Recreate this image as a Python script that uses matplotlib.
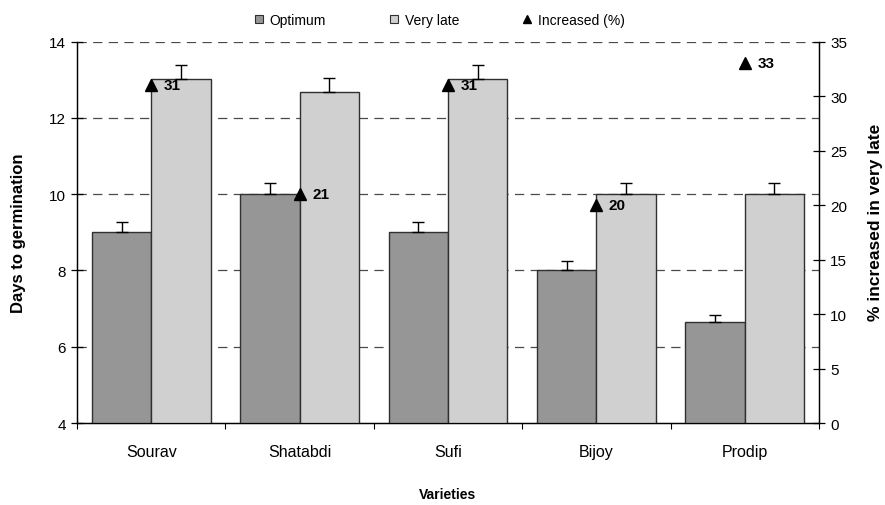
import numpy as np
import matplotlib
matplotlib.use('Agg')
import matplotlib.pyplot as plt
from matplotlib.lines import Line2D

plt.rcParams['font.family'] = ['Liberation Sans', 'DejaVu Sans']

varieties = ['Sourav', 'Shatabdi', 'Sufi', 'Bijoy', 'Prodip']
optimum = [9.0, 10.0, 9.0, 8.0, 6.65]
optimum_err = [0.26, 0.30, 0.26, 0.24, 0.19]
very_late = [13.03, 12.67, 13.02, 10.0, 10.0]
very_late_err = [0.37, 0.37, 0.37, 0.30, 0.30]
increased = [31, 21, 31, 20, 33]

fig = plt.figure(figsize=(8.85, 5.06), dpi=100)
ax = fig.add_axes([0.087, 0.162, 0.8384, 0.7536])
ax2 = ax.twinx()

x = np.arange(len(varieties))
w = 0.4

ax.bar(x - w / 2, optimum, w, bottom=0, color='#969696', edgecolor='#303030',
       linewidth=1, zorder=3)
ax.bar(x + w / 2, very_late, w, bottom=0, color='#d0d0d0', edgecolor='#303030',
       linewidth=1, zorder=3)
ax.errorbar(x - w / 2, optimum, yerr=[np.zeros(5), optimum_err], fmt='none',
            ecolor='black', elinewidth=1, capsize=4, capthick=1, zorder=4)
ax.errorbar(x + w / 2, very_late, yerr=[np.zeros(5), very_late_err], fmt='none',
            ecolor='black', elinewidth=1, capsize=4, capthick=1, zorder=4)

ax.set_ylim(4, 14)
ax.set_xlim(-0.5, 4.5)
ax.set_yticks([4, 6, 8, 10, 12, 14])
for yv in [6, 8, 10, 12, 14]:
    ax.axhline(yv, color='#4a4a4a', linestyle=(0, (7.4, 5.1)), linewidth=0.9, zorder=1)

# category boundaries as ticks, names centred below
ax.set_xticks(np.arange(-0.5, 5.0, 1.0))
ax.set_xticklabels([])
ax.set_xticks(x, minor=True)
ax.set_xticklabels(varieties, minor=True, fontsize=11.5)
ax.tick_params(axis='x', which='major', direction='out', length=4, width=0.8)
ax.tick_params(axis='x', which='minor', length=0, pad=15)
ax.tick_params(axis='y', direction='inout', length=8, width=0.9, labelsize=11, pad=4)

ax2.set_ylim(0, 35)
ax2.set_yticks(range(0, 36, 5))
ax2.tick_params(axis='y', direction='inout', length=8, width=0.9, labelsize=11, pad=4)
ax2.plot(x, increased, linestyle='none', marker='^', markersize=8, color='black', zorder=5)
for xi, v in zip(x, increased):
    ax2.annotate(f'{v}', (xi, v), xytext=(9, 0), textcoords='offset points',
                 ha='left', va='center', fontsize=11, fontweight='bold')

for a in (ax, ax2):
    a.spines['top'].set_visible(False)
    for s in ('left', 'right', 'bottom'):
        a.spines[s].set_linewidth(0.9)

ax.set_ylabel('Days to germination', fontsize=12, fontweight='bold', va='center')
ax.yaxis.set_label_coords(-0.0795, 0.5)
ax2.set_ylabel('% increased in very late', fontsize=12.5, fontweight='bold', va='center')
ax2.yaxis.set_label_coords(1.0768, 0.53)
ax.set_xlabel('Varieties', fontsize=10, fontweight='bold', va='center')
ax.xaxis.set_label_coords(0.5, -0.186)

handles = [
    Line2D([], [], linestyle='none', marker='s', markersize=5.5,
           markerfacecolor='#969696', markeredgecolor='#303030', markeredgewidth=0.8),
    Line2D([], [], linestyle='none', marker='s', markersize=5.5,
           markerfacecolor='#d0d0d0', markeredgecolor='#303030', markeredgewidth=0.8),
    Line2D([], [], linestyle='none', marker='^', markersize=5.5, color='black'),
]
fig.legend(handles, ['Optimum', 'Very late', 'Increased (%)'], loc='center',
           bbox_to_anchor=(0.497, 0.959), ncol=3, frameon=False, fontsize=10,
           handlelength=0.6, handletextpad=0.45, columnspacing=4.6)

fig.savefig('out.png', dpi=100)
